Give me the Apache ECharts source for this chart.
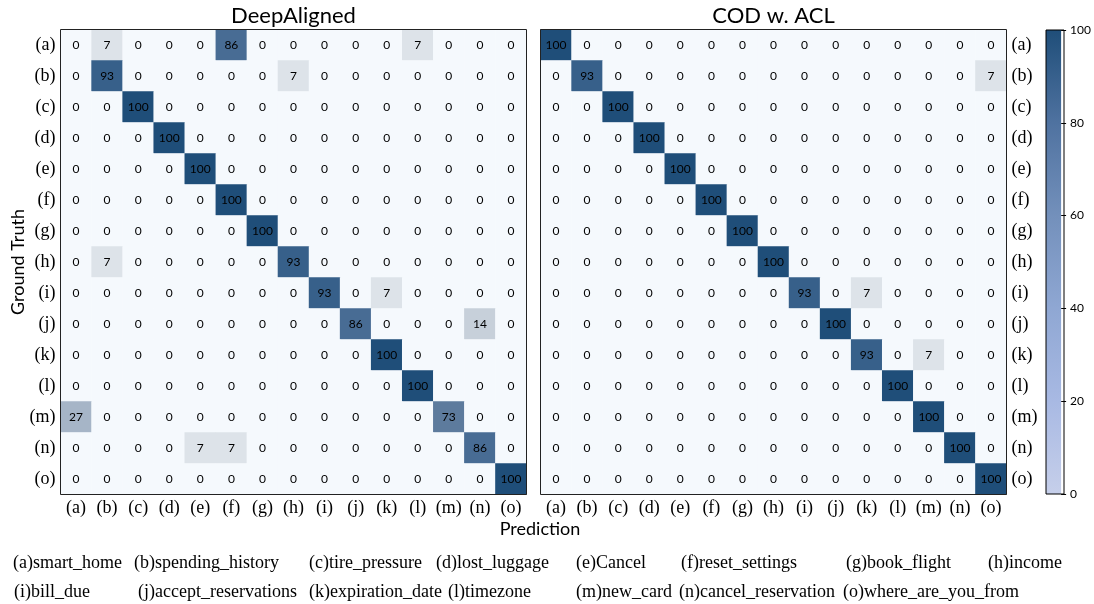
<!DOCTYPE html>
<html>
<head>
<meta charset="utf-8">
<script src="https://cdn.jsdelivr.net/npm/echarts@6/dist/echarts.min.js"></script>
<style>
html,body{margin:0;padding:0;background:#fff;}
#chart{width:1094px;height:604px;}
</style>
</head>
<body>
<div id="chart"></div>
<script>
// ---- data ----
var labels = ['(a)','(b)','(c)','(d)','(e)','(f)','(g)','(h)','(i)','(j)','(k)','(l)','(m)','(n)','(o)'];
var titles = ['DeepAligned', 'COD w. ACL'];
// rows = ground truth, columns = prediction
var deepAligned = [
  [0,7,0,0,0,86,0,0,0,0,0,7,0,0,0],
  [0,93,0,0,0,0,0,7,0,0,0,0,0,0,0],
  [0,0,100,0,0,0,0,0,0,0,0,0,0,0,0],
  [0,0,0,100,0,0,0,0,0,0,0,0,0,0,0],
  [0,0,0,0,100,0,0,0,0,0,0,0,0,0,0],
  [0,0,0,0,0,100,0,0,0,0,0,0,0,0,0],
  [0,0,0,0,0,0,100,0,0,0,0,0,0,0,0],
  [0,7,0,0,0,0,0,93,0,0,0,0,0,0,0],
  [0,0,0,0,0,0,0,0,93,0,7,0,0,0,0],
  [0,0,0,0,0,0,0,0,0,86,0,0,0,14,0],
  [0,0,0,0,0,0,0,0,0,0,100,0,0,0,0],
  [0,0,0,0,0,0,0,0,0,0,0,100,0,0,0],
  [27,0,0,0,0,0,0,0,0,0,0,0,73,0,0],
  [0,0,0,0,7,7,0,0,0,0,0,0,0,86,0],
  [0,0,0,0,0,0,0,0,0,0,0,0,0,0,100]
];
var codACL = [
  [100,0,0,0,0,0,0,0,0,0,0,0,0,0,0],
  [0,93,0,0,0,0,0,0,0,0,0,0,0,0,7],
  [0,0,100,0,0,0,0,0,0,0,0,0,0,0,0],
  [0,0,0,100,0,0,0,0,0,0,0,0,0,0,0],
  [0,0,0,0,100,0,0,0,0,0,0,0,0,0,0],
  [0,0,0,0,0,100,0,0,0,0,0,0,0,0,0],
  [0,0,0,0,0,0,100,0,0,0,0,0,0,0,0],
  [0,0,0,0,0,0,0,100,0,0,0,0,0,0,0],
  [0,0,0,0,0,0,0,0,93,0,7,0,0,0,0],
  [0,0,0,0,0,0,0,0,0,100,0,0,0,0,0],
  [0,0,0,0,0,0,0,0,0,0,93,0,7,0,0],
  [0,0,0,0,0,0,0,0,0,0,0,100,0,0,0],
  [0,0,0,0,0,0,0,0,0,0,0,0,100,0,0],
  [0,0,0,0,0,0,0,0,0,0,0,0,0,100,0],
  [0,0,0,0,0,0,0,0,0,0,0,0,0,0,100]
];
var colorbarTicks = [0, 20, 40, 60, 80, 100];
var legendRow1 = ['(a)smart_home','(b)spending_history','(c)tire_pressure','(d)lost_luggage','(e)Cancel','(f)reset_settings','(g)book_flight','(h)income'];
var legendRow2 = ['(i)bill_due','(j)accept_reservations','(k)expiration_date','(l)timezone','(m)new_card','(n)cancel_reservation','(o)where_are_you_from'];

// ---- layout ----
var G0 = {left:60.5, top:29.5, width:466, height:465};
var G1 = {left:540.5, top:29.5, width:466, height:465};
var GC = {left:1046, top:30, width:18, height:464};
var legendX1 = [13,134,309,436,576,681,846,988];
var legendX2 = [14,138,309,448,576,679,843];

function toCells(m){
  var out = [];
  for (var r=0;r<m.length;r++) for (var c=0;c<m[r].length;c++) out.push([c, r, m[r][c]]);
  return out;
}

var serif = 'Liberation Serif';
var sans = 'Lato';

var chart = echarts.init(document.getElementById('chart'), null, {renderer:'canvas'});

function catX(gi){
  return {type:'category', gridIndex:gi, data:labels, position:'bottom',
    axisLine:{show:false}, axisTick:{show:false},
    axisLabel:{interval:0, fontFamily:serif, fontSize:18, color:'#000', margin:5}, splitLine:{show:false}};
}
function catY(gi, pos){
  return {type:'category', gridIndex:gi, data:labels, inverse:true, position:pos,
    axisLine:{show:false}, axisTick:{show:false},
    axisLabel:{interval:0, fontFamily:serif, fontSize:18, color:'#000', margin:5}, splitLine:{show:false}};
}
function heat(gi, m){
  return {type:'heatmap', xAxisIndex:gi, yAxisIndex:gi, data:toCells(m),
    itemStyle:{borderWidth:0},
    label:{show:true, fontFamily:sans, fontSize:12, color:'#000',
      formatter:function(p){return String(p.value[2]);}},
    emphasis:{disabled:true}, silent:true};
}

var graphics = [];
[G0,G1].forEach(function(g){
  graphics.push({type:'rect', z:100, silent:true,
    shape:{x:g.left, y:g.top, width:g.width, height:g.height},
    style:{fill:'none', stroke:'#222', lineWidth:1}});
});
graphics.push({type:'rect', z:100, silent:true,
  shape:{x:GC.left, y:GC.top, width:GC.width, height:GC.height},
  style:{fill:'none', stroke:'#000', lineWidth:1}});
graphics.push({type:'text', z:100, x:G0.left+G0.width/2, y:16,
  style:{text:titles[0], font:'22px Lato', fill:'#000', textAlign:'center', textVerticalAlign:'middle'}});
graphics.push({type:'text', z:100, x:G1.left+G1.width/2, y:16,
  style:{text:titles[1], font:'22px Lato', fill:'#000', textAlign:'center', textVerticalAlign:'middle'}});
graphics.push({type:'text', z:100, x:540, y:529,
  style:{text:'Prediction', font:'18px Lato', fill:'#000', textAlign:'center', textVerticalAlign:'middle'}});
graphics.push({type:'text', z:100, x:18, y:262, rotation:Math.PI/2,
  style:{text:'Ground Truth', font:'18px Lato', fill:'#000', textAlign:'center', textVerticalAlign:'middle'}});
legendRow1.forEach(function(t,i){
  graphics.push({type:'text', z:100, x:legendX1[i], y:563,
    style:{text:t, font:'18px "Liberation Serif"', fill:'#000', textAlign:'left', textVerticalAlign:'middle'}});
});
legendRow2.forEach(function(t,i){
  graphics.push({type:'text', z:100, x:legendX2[i], y:592,
    style:{text:t, font:'18px "Liberation Serif"', fill:'#000', textAlign:'left', textVerticalAlign:'middle'}});
});

var option = {
  animation:false,
  backgroundColor:'#fff',
  grid:[G0,G1,GC].map(function(g){return {left:g.left, top:g.top, width:g.width, height:g.height, containLabel:false, show:false};}),
  xAxis:[catX(0), catX(1),
    {type:'category', gridIndex:2, data:['cb'], show:false}],
  yAxis:[catY(0,'left'), catY(1,'right'),
    {type:'value', gridIndex:2, min:colorbarTicks[0], max:colorbarTicks[colorbarTicks.length-1], interval:20, position:'right',
      axisLine:{show:false}, axisTick:{show:true, length:5, lineStyle:{color:'#000', width:1}},
      axisLabel:{fontFamily:sans, fontSize:12, color:'#000', margin:9}, splitLine:{show:false}}],
  visualMap:[{type:'continuous', show:false, min:0, max:100, seriesIndex:[0,1],
    inRange:{color:['#f5f9fd','#d3d9e1','#b6c2d0','#9fb0c3','#90a4ba','#8097b1','#708aa8','#617e9f','#527398','#416892','#1f4e79']}}],
  series:[heat(0, deepAligned), heat(1, codACL),
    {type:'bar', xAxisIndex:2, yAxisIndex:2, data:[colorbarTicks[colorbarTicks.length-1]], barWidth:'100%', silent:true,
      itemStyle:{color:new echarts.graphic.LinearGradient(0,0,0,1,[
        {offset:0, color:'#1f4e79'},
        {offset:0.2, color:'#4f72a0'},
        {offset:0.4, color:'#7390bb'},
        {offset:0.6, color:'#8fa7d3'},
        {offset:0.8, color:'#a8b9e3'},
        {offset:1, color:'#c6cfea'}])}}],
  graphic:graphics
};
chart.setOption(option);
</script>
</body>
</html>
